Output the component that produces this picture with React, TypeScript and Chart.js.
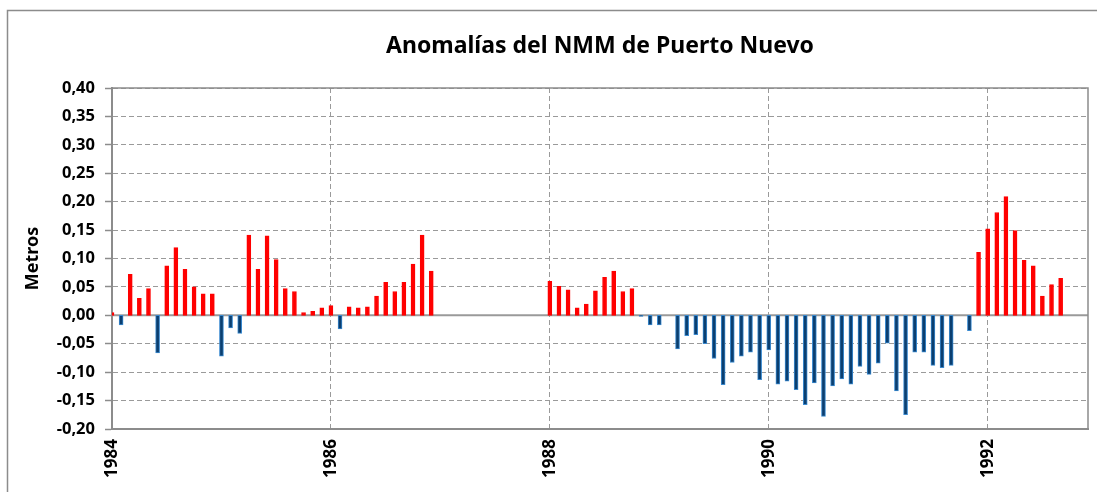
import React, { useEffect, useRef } from "react";
import { Chart, registerables } from "chart.js";

Chart.register(...registerables);

// Months counted from January 1984 (0 = Jan 1984)
const START_YEAR = 1984;
const X_MIN = 0;
const X_MAX = 107;
const YEAR_TICKS = [0, 24, 48, 72, 96];

// Jan 1984 – Dec 1986
const values1984to1986: (number | null)[] = [
  0.005, -0.017, 0.072, 0.030, 0.047, -0.066, 0.087, 0.119, 0.081, 0.050, 0.038, 0.038,
  -0.072, -0.022, -0.032, 0.141, 0.081, 0.140, 0.098, 0.047, 0.042, 0.005, 0.007, 0.013,
  0.017, -0.024, 0.015, 0.013, 0.015, 0.034, 0.058, 0.042, 0.058, 0.090, 0.141, 0.078,
];
const start1 = 0;

// Jan 1988 – Sep 1992
const values1988to1992: (number | null)[] = [
  0.060, 0.051, 0.045, 0.013, 0.020, 0.043, 0.067, 0.078, 0.042, 0.047, -0.002, -0.017,
  -0.017, null, -0.059, -0.036, -0.034, -0.050, -0.076, -0.122, -0.083, -0.072, -0.065, -0.113,
  -0.061, -0.121, -0.116, -0.131, -0.157, -0.119, -0.178, -0.124, -0.112, -0.121, -0.090, -0.104,
  -0.084, -0.049, -0.133, -0.175, -0.065, -0.065, -0.088, -0.092, -0.088, null, -0.027, 0.111,
  0.152, 0.181, 0.209, 0.149, 0.097, 0.087, 0.034, 0.054, 0.065,
];
const start2 = 48;

const Y_MIN = -0.2;
const Y_MAX = 0.4;
const Y_STEP = 0.05;

const TITLE = "Anomalías del NMM de Puerto Nuevo";
const Y_TITLE = "Metros";

const FONT = "'Noto Sans', 'DejaVu Sans', sans-serif";
const DASH = [5, 3];

export default function App() {
  const ref = useRef<HTMLCanvasElement | null>(null);

  useEffect(() => {
    if (!ref.current) return;
    const points: { x: number; y: number | null }[] = [];
    values1984to1986.forEach((v, i) => points.push({ x: start1 + i, y: v }));
    values1988to1992.forEach((v, i) => points.push({ x: start2 + i, y: v }));

    const framePlugin = {
      id: "frame",
      beforeDraw(chart: any) {
        const ctx = chart.ctx;
        ctx.save();
        ctx.fillStyle = "#ffffff";
        ctx.fillRect(0, 0, chart.width, chart.height);
        ctx.strokeStyle = "#8c8c8c";
        ctx.lineWidth = 1.5;
        ctx.beginPath();
        ctx.moveTo(7.5, chart.height + 5);
        ctx.lineTo(7.5, 10.5);
        ctx.lineTo(chart.width + 5, 10.5);
        ctx.stroke();
        ctx.restore();
      },
      beforeDatasetsDraw(chart: any) {
        const { ctx, chartArea } = chart;
        const y0 = chart.scales.y.getPixelForValue(0);
        ctx.save();
        ctx.strokeStyle = "#9a9a9a";
        ctx.lineWidth = 2;
        ctx.setLineDash([]);
        ctx.beginPath();
        ctx.moveTo(chartArea.left, y0);
        ctx.lineTo(chartArea.right, y0);
        ctx.stroke();
        ctx.restore();
      },
      afterDraw(chart: any) {
        const { ctx, chartArea } = chart;
        ctx.save();
        ctx.strokeStyle = "#8c8c8c";
        ctx.lineWidth = 1.5;
        ctx.setLineDash([]);
        ctx.beginPath();
        ctx.moveTo(chartArea.left, chartArea.top);
        ctx.lineTo(chartArea.right, chartArea.top);
        ctx.lineTo(chartArea.right, chartArea.bottom);
        ctx.stroke();
        ctx.restore();
      },
    };

    const chart = new Chart(ref.current, {
      type: "bar",
      data: {
        datasets: [
          {
            data: points as any,
            barThickness: 4,
            backgroundColor: (c: any) => ((c.raw?.y ?? 0) >= 0 ? "#ff0000" : "#0b3f70"),
            borderColor: (c: any) => ((c.raw?.y ?? 0) >= 0 ? "#ff0000" : "#3a8ad0"),
            borderWidth: 1,
            borderSkipped: false,
          },
        ],
      },
      plugins: [framePlugin],
      options: {
        responsive: false,
        animation: false,
        layout: { padding: { left: 0, right: 9, top: 0, bottom: 0 } },
        plugins: {
          legend: { display: false },
          tooltip: { enabled: false },
          title: {
            display: true,
            text: TITLE,
            fullSize: false,
            color: "#000000",
            font: { family: FONT, size: 23, weight: "bold", lineHeight: 1.2 },
            padding: { top: 33, bottom: 27.4 },
          },
        },
        scales: {
          x: {
            type: "linear",
            min: X_MIN,
            max: X_MAX,
            offset: false,
            afterBuildTicks: (scale: any) => {
              scale.ticks = YEAR_TICKS.map((v) => ({ value: v }));
            },
            afterFit: (scale: any) => {
              scale.height = 63;
            },
            ticks: {
              autoSkip: false,
              minRotation: 90,
              maxRotation: 90,
              padding: 10,
              color: "#000000",
              font: { family: FONT, size: 17, weight: "bold" },
              callback: (v: any) => String(START_YEAR + Math.round(Number(v) / 12)),
            },
            grid: {
              display: true,
              drawTicks: false,
              offset: false,
              color: "#9a9a9a",
              lineWidth: 1,
              borderDash: DASH,
            } as any,
            border: { display: true, color: "#8c8c8c", width: 2, dash: DASH },
          },
          y: {
            min: Y_MIN,
            max: Y_MAX,
            afterFit: (scale: any) => {
              scale.width = 112;
            },
            ticks: {
              stepSize: Y_STEP,
              padding: 10,
              color: "#000000",
              font: { family: FONT, size: 16.5, weight: "bold" },
              callback: (v: any) => Number(v).toFixed(2).replace(".", ","),
            },
            grid: {
              color: "#9a9a9a",
              lineWidth: 1,
              tickLength: 7,
              tickColor: "#8c8c8c",
              tickWidth: 1.5,
              tickBorderDash: [0, 0],
              borderDash: DASH,
            } as any,
            border: { display: true, color: "#8c8c8c", width: 2, dash: DASH },
            title: {
              display: true,
              text: Y_TITLE,
              color: "#000000",
              font: { family: FONT, size: 18, weight: "bold" },
              padding: { top: 22, bottom: 0 },
            },
          },
        },
      } as any,
    });
    return () => chart.destroy();
  }, []);

  return (
    <div style={{ position: "absolute", left: 0, top: 0, width: 1097, height: 492 }}>
      <canvas ref={ref} width={1097} height={492} style={{ display: "block" }} />
    </div>
  );
}
